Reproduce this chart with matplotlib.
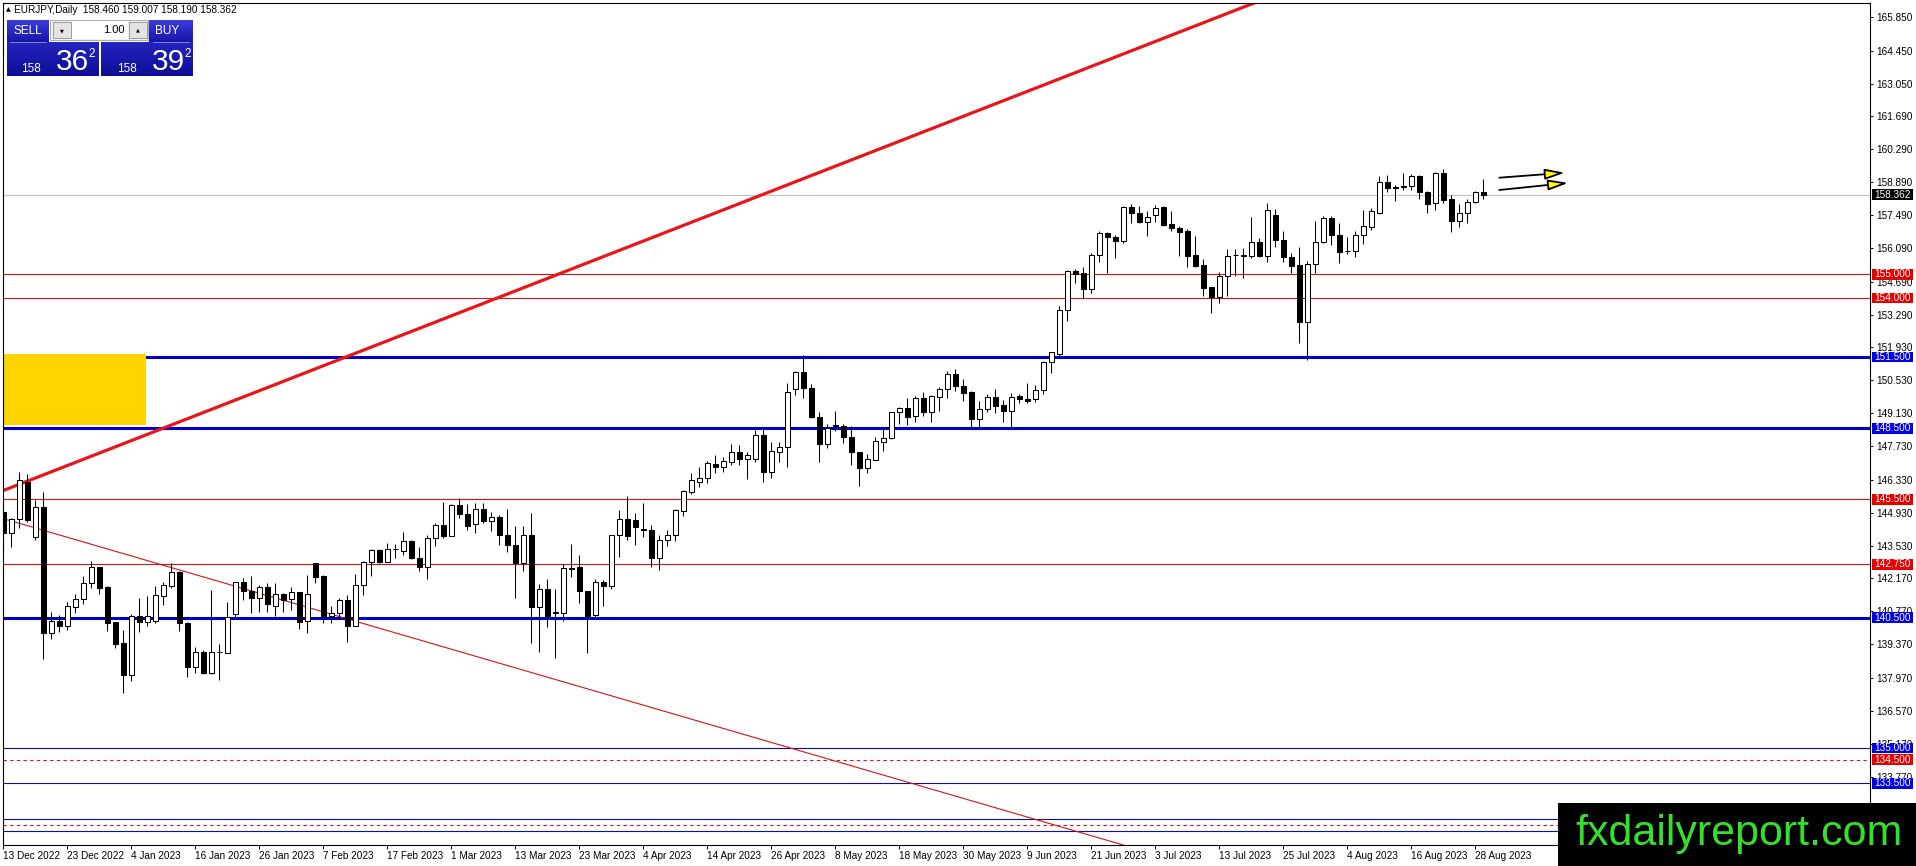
import matplotlib
matplotlib.use("Agg")
import matplotlib.pyplot as plt
import matplotlib.transforms as mtransforms
from matplotlib.patches import Rectangle, FancyArrowPatch
from matplotlib.colors import LinearSegmentedColormap
import numpy as np

plt.rcParams["font.family"] = ["Liberation Sans", "DejaVu Sans"]

# ---- EURJPY daily candles, 13 Dec 2022 .. 29 Aug 2023 ----
opens = [
    144.97, 144.06, 144.65, 146.24, 143.92, 145.16, 139.86, 140.38, 140.16, 140.96,
    141.27, 141.95, 142.62, 141.79, 140.30, 139.41, 138.10, 140.58, 140.33, 140.37,
    141.42, 141.85, 142.41, 140.26, 138.40, 139.06, 138.15, 139.03, 139.02, 140.65,
    141.99, 141.64, 141.35, 141.78, 141.00, 141.48, 141.27, 141.57, 140.36, 142.79,
    142.26, 140.57, 140.71, 141.24, 140.16, 141.90, 142.83, 143.35, 142.86, 143.38,
    143.33, 143.73, 143.04, 142.62, 143.87, 144.41, 143.96, 145.25, 144.86, 144.44,
    145.07, 144.59, 144.76, 144.01, 143.56, 142.82, 144.01, 140.96, 141.73, 140.70,
    140.70, 142.60, 142.62, 141.63, 140.63, 141.99, 141.85, 144.01, 144.65, 144.62,
    144.24, 144.20, 143.03, 143.80, 144.01, 145.01, 145.82, 146.24, 146.41, 146.98,
    146.87, 147.08, 147.50, 147.18, 147.22, 148.21, 146.66, 147.51, 147.69, 150.14,
    150.86, 150.18, 148.99, 147.82, 148.60, 148.60, 148.14, 147.48, 146.80, 147.15,
    147.93, 148.07, 149.17, 149.34, 149.03, 149.79, 149.20, 149.83, 150.14, 150.79,
    150.30, 150.01, 148.87, 149.30, 149.80, 149.48, 149.24, 149.86, 149.73, 149.72,
    150.11, 151.28, 151.63, 153.49, 155.15, 155.04, 154.36, 155.81, 156.73, 156.56,
    156.42, 157.83, 157.60, 157.19, 157.50, 157.83, 157.11, 156.94, 156.84, 155.81,
    155.39, 154.45, 154.05, 154.92, 155.80, 155.79, 155.78, 156.35, 155.78, 157.50,
    156.47, 155.71, 155.39, 152.99, 155.42, 156.37, 157.36, 156.68, 155.97, 155.99,
    156.68, 157.00, 157.61, 158.88, 158.67, 158.67, 158.73, 159.15, 158.49, 158.02,
    159.26, 158.16, 157.26, 157.57, 158.04, 158.460]
highs = [
    145.33, 144.72, 146.66, 146.56, 145.46, 145.82, 140.75, 140.60, 141.17, 141.48,
    142.26, 142.89, 142.65, 141.83, 140.30, 139.97, 140.65, 141.34, 141.41, 141.85,
    142.02, 142.79, 142.48, 140.33, 139.27, 139.13, 141.66, 139.38, 141.17, 142.02,
    142.19, 142.26, 141.88, 141.95, 141.95, 141.55, 141.78, 141.57, 142.30, 142.79,
    142.30, 140.99, 141.31, 141.45, 142.33, 142.89, 143.38, 143.38, 143.66, 143.63,
    144.13, 143.78, 143.49, 143.99, 144.48, 145.40, 145.32, 145.54, 145.32, 145.35,
    145.35, 144.97, 144.83, 145.08, 144.37, 144.37, 144.93, 141.94, 142.15, 141.69,
    142.76, 143.60, 143.14, 141.63, 142.15, 142.11, 144.01, 145.04, 145.63, 144.90,
    145.36, 144.41, 143.98, 144.20, 145.11, 145.91, 146.59, 146.87, 147.11, 147.39,
    147.29, 147.83, 147.78, 147.50, 148.42, 148.56, 147.90, 147.93, 150.40, 150.91,
    151.59, 150.35, 149.17, 148.66, 149.22, 148.67, 148.60, 147.51, 147.40, 148.11,
    148.53, 149.20, 149.41, 149.76, 149.87, 150.01, 149.90, 150.25, 150.91, 150.99,
    150.56, 150.07, 149.65, 149.94, 150.14, 149.69, 150.00, 149.94, 150.42, 150.32,
    151.34, 151.73, 153.66, 155.18, 155.22, 155.32, 155.88, 156.84, 156.80, 156.66,
    157.88, 157.95, 157.90, 157.68, 157.92, 157.88, 157.68, 157.04, 156.90, 156.61,
    155.63, 154.47, 155.11, 156.05, 156.05, 156.13, 157.43, 156.52, 158.02, 157.74,
    156.83, 155.92, 156.16, 155.56, 157.25, 157.46, 157.46, 157.18, 156.56, 156.83,
    157.71, 157.82, 159.15, 159.19, 158.77, 159.26, 159.23, 159.19, 158.53, 159.33,
    159.43, 158.35, 157.99, 158.20, 158.53, 159.007]
lows = [
    143.47, 143.47, 144.27, 144.55, 143.80, 138.75, 139.60, 139.90, 139.97, 140.71,
    141.07, 141.76, 141.52, 139.95, 139.23, 137.33, 137.84, 139.90, 140.16, 140.26,
    141.03, 141.74, 139.95, 137.98, 138.15, 138.12, 138.12, 137.87, 139.02, 140.43,
    141.24, 140.68, 140.75, 140.75, 140.57, 140.75, 140.82, 140.02, 139.86, 141.95,
    140.26, 140.26, 140.43, 139.48, 140.16, 141.45, 142.27, 142.79, 142.86, 143.00,
    143.14, 142.97, 142.48, 142.13, 143.52, 143.85, 143.96, 144.73, 144.20, 144.06,
    144.48, 144.17, 143.56, 143.28, 141.31, 142.48, 139.44, 139.06, 140.11, 138.78,
    140.37, 142.23, 141.10, 139.02, 140.54, 141.00, 141.73, 143.07, 143.77, 143.56,
    143.92, 142.65, 142.51, 143.53, 143.73, 144.80, 145.72, 146.03, 146.19, 146.62,
    146.66, 146.94, 146.94, 146.34, 147.08, 146.24, 146.41, 147.08, 146.85, 149.90,
    149.79, 148.95, 147.08, 147.65, 148.40, 147.86, 146.94, 146.07, 146.62, 147.15,
    147.55, 148.03, 148.67, 148.63, 148.77, 149.01, 148.77, 149.22, 149.76, 150.07,
    149.65, 148.53, 148.53, 149.20, 149.15, 148.77, 148.53, 149.55, 149.58, 149.62,
    149.94, 150.84, 151.52, 153.04, 154.62, 154.01, 154.22, 155.53, 155.04, 155.70,
    156.33, 157.18, 157.17, 156.63, 157.19, 157.04, 156.84, 155.78, 155.32, 155.29,
    154.08, 153.38, 153.80, 154.08, 154.92, 154.83, 155.70, 155.75, 155.53, 156.16,
    155.53, 155.07, 152.11, 151.38, 155.04, 156.33, 156.23, 155.46, 155.85, 155.71,
    156.30, 156.87, 157.54, 158.49, 158.11, 158.56, 158.58, 158.18, 157.61, 157.71,
    158.02, 156.80, 157.01, 157.18, 158.02, 158.190]
closes = [
    144.09, 144.65, 146.31, 144.62, 145.16, 139.86, 140.38, 140.16, 140.99, 141.27,
    141.95, 142.62, 141.76, 140.26, 139.37, 138.10, 140.58, 140.33, 140.58, 141.45,
    141.86, 142.41, 140.26, 138.40, 139.06, 138.15, 139.03, 139.05, 140.51, 141.99,
    141.64, 141.34, 141.78, 141.06, 141.48, 141.24, 141.57, 140.33, 141.52, 142.23,
    140.57, 140.71, 141.24, 140.16, 141.90, 142.86, 143.35, 142.83, 143.38, 143.42,
    143.73, 143.03, 142.62, 143.85, 144.41, 143.96, 145.25, 144.86, 144.38, 145.07,
    144.59, 144.76, 143.99, 143.56, 142.82, 144.01, 140.96, 141.73, 140.56, 140.72,
    142.58, 142.56, 141.63, 140.56, 141.99, 141.85, 144.01, 144.65, 143.96, 144.31,
    144.20, 143.03, 143.80, 144.01, 145.04, 145.84, 146.31, 146.41, 147.04, 146.87,
    147.11, 147.50, 147.19, 147.36, 148.21, 146.66, 147.54, 147.69, 150.01, 150.86,
    150.18, 148.99, 147.82, 148.49, 148.62, 148.14, 147.48, 146.80, 147.18, 147.96,
    148.07, 149.17, 149.34, 148.99, 149.79, 149.20, 149.86, 150.14, 150.79, 150.30,
    150.00, 148.87, 149.30, 149.80, 149.45, 149.24, 149.83, 149.72, 149.65, 150.11,
    151.28, 151.70, 153.49, 155.15, 155.01, 154.36, 155.81, 156.73, 156.56, 156.42,
    157.83, 157.60, 157.19, 157.40, 157.81, 157.08, 156.94, 156.80, 155.78, 155.35,
    154.43, 154.05, 154.92, 155.77, 155.82, 155.81, 156.35, 155.78, 157.71, 156.47,
    155.71, 155.36, 152.99, 155.42, 156.37, 157.36, 156.68, 155.95, 155.99, 156.68,
    157.04, 157.67, 158.88, 158.63, 158.63, 158.71, 159.15, 158.49, 157.99, 159.26,
    158.14, 157.26, 157.57, 158.04, 158.46, 158.362]

date_labels = ["13 Dec 2022", "23 Dec 2022", "4 Jan 2023", "16 Jan 2023", "26 Jan 2023",
               "7 Feb 2023", "17 Feb 2023", "1 Mar 2023", "13 Mar 2023", "23 Mar 2023",
               "4 Apr 2023", "14 Apr 2023", "26 Apr 2023", "8 May 2023", "18 May 2023",
               "30 May 2023", "9 Jun 2023", "21 Jun 2023", "3 Jul 2023", "13 Jul 2023",
               "25 Jul 2023", "4 Aug 2023", "16 Aug 2023", "28 Aug 2023"]
DATE_STEP = 8                                   # one label every 8 bars

price_ticks = [165.85, 164.45, 163.05, 161.69, 160.29, 158.89, 157.49, 156.09, 154.69,
               153.29, 151.93, 150.53, 149.13, 147.73, 146.33, 144.93, 143.53, 142.17,
               140.77, 139.37, 137.97, 136.57, 135.17, 133.77, 132.37]

red_levels = [155.0, 154.0, 145.5, 142.75]
blue_thick_levels = [151.5, 148.5, 140.5]
blue_thin_levels = [135.0, 133.5, 132.0, 131.5]
red_dashed_levels = [134.5, 131.75]

# trend lines (two points each, bar index / price)
up_trend = [(-0.075, 145.86), (49.59, 152.40)]
down_trend = [(-0.075, 144.69), (62.09, 138.57)]
# yellow zone: bar range / price range
zone_bars = (-3.0, 17.9)
zone_prices = (148.62, 151.64)
# the two projection arrows
arrows = [((187.0, 159.08), (195.2, 159.29)),
          ((187.0, 158.56), (195.6, 158.86))]

# ------------------------------------------------------------------ figure
W, H = 1916, 866
PX_L, PX_R, PX_T, PX_B = 2.5, 1870.0, 2.7, 845.0
fig = plt.figure(figsize=(W / 100, H / 100), dpi=100)
fig.patch.set_facecolor("white")
ax = fig.add_axes([PX_L / W, (H - PX_B) / H, (PX_R - PX_L) / W, (PX_B - PX_T) / H])
ax.set_xlim(-0.1, 233.34)
ax.set_ylim(130.9, 166.47)
ax.set_facecolor("white")

o = np.array(opens); h = np.array(highs); l = np.array(lows); c = np.array(closes)
x = np.arange(len(o))
bull = c >= o

# horizontal levels
for v in red_levels:
    ax.axhline(v, color="#D41414", lw=0.8, zorder=1)
for v in blue_thick_levels:
    ax.axhline(v, color="#0000C8", lw=2.2, zorder=1)
for v in blue_thin_levels:
    ax.axhline(v, color="#10109C", lw=0.8, zorder=1)
for v in red_dashed_levels:
    ax.axhline(v, color="#D41414", lw=0.8, ls=(0, (3, 3)), zorder=1)
ax.axhline(closes[-1], color="#C0C0C0", lw=0.8, zorder=1)

# yellow zone + trend lines
ax.add_patch(Rectangle((zone_bars[0], zone_prices[0]), zone_bars[1] - zone_bars[0],
                       zone_prices[1] - zone_prices[0], fc="#FFD400", ec="none", zorder=1.5))
ax.axline(up_trend[0], up_trend[1], color="#E8151B", lw=2.3, zorder=2)
ax.axline(down_trend[0], down_trend[1], color="#D41414", lw=0.8, zorder=2)

# candles
ax.vlines(x, l, h, color="black", lw=0.75, zorder=3)
ax.bar(x, np.abs(c - o), bottom=np.minimum(o, c), width=0.56,
       color=np.where(bull, "white", "black"), edgecolor="black", lw=0.75, zorder=4)

# arrows
for a, b in arrows:
    ax.add_patch(FancyArrowPatch(a, b, arrowstyle="-|>,head_length=12,head_width=3.2",
                                 mutation_scale=1, fc="#FFFF00", ec="black", lw=1.3,
                                 shrinkA=0, shrinkB=0, zorder=6))

# axes styling
for sp in ax.spines.values():
    sp.set_color("black"); sp.set_linewidth(0.8)
ax.yaxis.tick_right()
ax.set_yticks(price_ticks)
ax.set_yticklabels(["%.3f" % v for v in price_ticks])
ax.tick_params(axis="y", length=2.5, width=0.7, pad=2, labelsize=7.2, colors="black")
ax.set_xticks(np.arange(len(date_labels)) * DATE_STEP)
ax.set_xticklabels(date_labels, ha="left")
ax.tick_params(axis="x", length=3, width=0.7, pad=1.5, labelsize=7.2, colors="black")

# price tags on the right scale
blend = mtransforms.blended_transform_factory(ax.transAxes, ax.transData)
fx0 = (1872 - PX_L) / (PX_R - PX_L)
fx1 = (1913 - PX_L) / (PX_R - PX_L)
half = 5.3 / 23.68
tags = [(v, "#E60000") for v in red_levels + red_dashed_levels] + \
       [(v, "#0000E0") for v in blue_thick_levels + blue_thin_levels] + \
       [(closes[-1], "black")]
for v, col in tags:
    ax.add_patch(Rectangle((fx0, v - half), fx1 - fx0, 2 * half, transform=blend,
                           fc=col, ec="none", clip_on=False, zorder=10))
    ax.text((fx0 + fx1) / 2, v, "%.3f" % v, transform=blend, color="white",
            fontsize=7.2, ha="center", va="center", clip_on=False, zorder=11)

# ------------------------------------------------------------------ overlay (pixels)
ov = fig.add_axes([0, 0, 1, 1], zorder=5)
ov.patch.set_alpha(0)
ov.axis("off")


def grad_box(x0, y0, x1, y1, ctop, cbot):
    cm = LinearSegmentedColormap.from_list("g", [ctop, cbot])
    ov.imshow(np.linspace(0, 1, 64).reshape(-1, 1), extent=[x0, x1, y1, y0], cmap=cm,
              aspect="auto", interpolation="bilinear", zorder=2)


# header line
ov.text(6, 10, "▲", fontsize=4.5, ha="left", va="center", family=["DejaVu Sans"])
ov.text(14, 10, "EURJPY,Daily  %.3f %.3f %.3f %.3f"
        % (opens[-1], highs[-1], lows[-1], closes[-1]),
        fontsize=7.2, ha="left", va="center")

# one-click trading panel
grad_box(7, 20, 49, 42, "#3C3CDC", "#1616A8")
grad_box(149, 20, 193, 42, "#3C3CDC", "#1616A8")
grad_box(7, 42, 99, 76, "#2424C0", "#0E0E96")
grad_box(101, 42, 193, 76, "#2424C0", "#0E0E96")
ov.add_patch(Rectangle((50, 20), 98, 20, fc="#F0F0F0", ec="#A0A0A0", lw=0.6, zorder=3))
ov.add_patch(Rectangle((72, 21), 56, 18, fc="white", ec="none", zorder=3.5))
for bx in (53, 129):
    ov.add_patch(Rectangle((bx, 22), 18, 16, fc="#E4E4E4", ec="#909090", lw=0.6, zorder=4))
ov.text(62, 30.5, "▼", fontsize=3.6, ha="center", va="center", family=["DejaVu Sans"], zorder=5)
ov.text(138, 29.5, "▲", fontsize=3.6, ha="center", va="center", family=["DejaVu Sans"], zorder=5)
ov.text(125, 30, "1.00", fontsize=8, ha="right", va="center", zorder=5)
ov.plot([10, 46], [41.5, 41.5], color="#9090E0", lw=0.6, zorder=4)
ov.plot([153, 189], [41.5, 41.5], color="#9090E0", lw=0.6, zorder=4)
ov.text(28, 31, "SELL", fontsize=8.5, color="white", ha="center", va="center", zorder=5)
ov.text(167, 31, "BUY", fontsize=8.5, color="white", ha="center", va="center", zorder=5)
for x0, big, sup in ((21, "36", "2"), (117, "39", "2")):
    ov.text(x0, 71.5, "158", fontsize=8.5, color="white", ha="left", va="baseline", zorder=5)
    ov.text(x0 + 35, 70.5, big, fontsize=21.5, color="white", ha="left", va="baseline", zorder=5)
    ov.text(x0 + 67, 57, sup, fontsize=8.5, color="white", ha="left", va="baseline", zorder=5)

# watermark
ov.add_patch(Rectangle((1558, 803), W - 1558, H - 803, fc="black", ec="none", zorder=8))
ov.text(1575, 845, "fxdailyreport.com", fontsize=31, color="#35E02A",
        ha="left", va="baseline", zorder=9)

ov.set_xlim(0, W)
ov.set_ylim(H, 0)

fig.savefig("out.png", dpi=100, facecolor="white")
